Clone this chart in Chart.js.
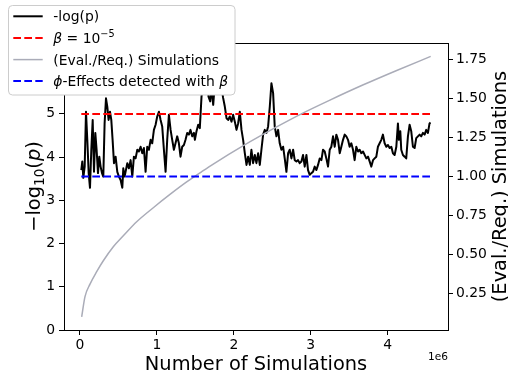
<!DOCTYPE html>
<html>
<head>
<meta charset="utf-8">
<script src="https://cdn.jsdelivr.net/npm/chart.js@4"></script>
<style>
  body { margin: 0; background: #fff; }
</style>
</head>
<body>
<canvas id="simChart" width="508" height="376"></canvas>
<script>
// number of simulations (in units of 1e6) and -log10(p) at each step
const simsM = [
  0.017,0.030,0.043,0.061,0.078,0.095,0.113,0.130,0.147,0.165,
  0.182,0.199,0.216,0.234,0.251,0.268,0.286,0.303,0.320,0.338,
  0.355,0.372,0.390,0.407,0.424,0.442,0.463,0.485,0.506,0.528,
  0.550,0.563,0.580,0.597,0.615,0.636,0.658,0.680,0.701,0.723,
  0.745,0.766,0.788,0.810,0.831,0.853,0.874,0.896,0.918,0.939,
  0.961,0.983,1.004,1.026,1.048,1.069,1.091,1.113,1.134,1.156,
  1.178,1.199,1.221,1.242,1.264,1.286,1.307,1.329,1.351,1.372,
  1.394,1.416,1.437,1.459,1.481,
  1.494,1.515,1.537,1.558,1.580,1.602,1.623,1.645,1.660,1.671,
  1.693,1.710,1.732,1.753,1.775,1.797,1.818,1.840,1.861,1.883,
  1.905,1.926,1.948,1.970,1.991,2.013,2.035,2.056,2.078,2.100,
  2.121,2.143,2.165,2.186,2.208,2.229,2.251,2.273,2.294,2.316,
  2.338,2.359,2.381,2.403,2.424,2.446,2.468,2.489,2.511,2.532,
  2.554,2.576,2.597,2.619,2.641,2.662,2.684,2.706,2.727,2.749,
  2.771,2.792,2.814,2.835,2.857,2.879,2.900,2.922,
  2.944,2.965,2.987,3.009,3.030,3.052,3.074,3.095,3.117,3.139,
  3.160,3.182,3.203,3.225,3.247,3.268,3.290,3.312,3.333,3.355,
  3.377,3.398,3.420,3.442,3.463,3.485,3.506,3.528,3.550,3.571,
  3.593,3.615,3.636,3.658,3.680,3.701,3.723,3.745,3.766,3.788,
  3.810,3.831,3.853,3.874,3.896,3.918,3.939,3.961,3.983,4.004,
  4.026,4.048,4.069,4.091,4.113,4.134,4.147,4.165,4.177,4.199,
  4.221,4.242,4.264,4.286,4.307,4.329,4.351,4.372,4.394,4.416,
  4.437,4.459,4.481,4.502,4.524,4.545,4.558
];
const negLogP = [
  3.70,3.90,3.52,3.78,5.05,4.40,3.63,3.29,4.17,4.86,
  3.66,4.56,4.17,3.63,4.01,3.78,3.63,3.55,4.78,5.36,
  5.17,4.86,5.05,4.86,4.40,3.86,4.01,3.66,3.55,3.47,
  3.29,3.74,3.55,3.70,3.86,3.74,3.93,3.55,4.01,3.97,
  4.17,4.13,4.24,4.09,4.21,3.66,4.24,4.17,4.40,4.32,
  4.63,4.75,4.94,5.05,4.86,4.71,4.17,3.66,4.40,4.98,
  4.63,4.40,4.17,4.32,4.48,4.32,4.01,4.24,4.28,4.40,
  4.56,4.52,4.63,4.48,4.56,
  4.40,4.60,4.75,4.67,5.40,5.72,6.00,6.25,5.90,5.40,
  5.29,5.60,5.21,5.70,6.10,6.30,5.90,5.60,5.37,5.17,
  4.90,4.86,4.94,4.82,4.98,4.82,4.63,4.78,5.05,4.63,
  4.40,4.09,3.82,4.01,3.82,4.17,3.86,4.05,3.86,4.09,
  3.82,4.17,4.52,4.63,4.56,4.71,5.17,5.71,5.48,4.71,
  4.48,4.63,4.32,4.17,4.24,3.97,3.66,4.09,4.17,3.97,
  4.17,3.93,3.90,3.93,3.86,3.90,4.05,3.78,
  4.05,3.70,3.59,3.63,3.66,3.78,3.70,3.82,3.97,3.93,
  4.17,4.13,3.97,3.78,4.17,4.24,4.48,4.24,4.52,4.40,
  4.09,4.24,4.40,4.52,4.48,4.40,4.24,4.32,4.17,3.93,
  4.24,4.13,4.17,4.09,4.13,4.05,3.97,4.01,3.90,3.78,
  3.93,3.97,4.01,4.24,4.32,4.40,4.52,4.32,4.24,4.28,
  4.21,4.24,4.09,4.05,4.24,4.78,4.40,4.60,4.17,4.05,
  4.01,3.97,4.48,4.75,4.60,4.24,4.21,4.44,4.48,4.52,
  4.48,4.56,4.52,4.63,4.56,4.78,4.80
];

// evaluated / required simulations ratio (right axis)
const ratioSimsM = [0.022,0.065,0.13,0.217,0.303,0.433,0.563,0.737,0.953,1.17,1.387,1.58,1.733,2.124,2.557,2.904,3.25,3.684,4.118,4.56];
const ratioVals  = [0.10,0.23,0.31,0.39,0.46,0.55,0.62,0.71,0.80,0.885,0.965,1.03,1.08,1.198,1.318,1.408,1.49,1.588,1.68,1.77];

const betaLevel = 5;       // -log10(1e-5)
const detectedLevel = 1.0; // right axis

const xTicks = [0, 1, 2, 3, 4];
const leftTicks = [0, 1, 2, 3, 4, 5];
const rightTicks = [0.25, 0.50, 0.75, 1.00, 1.25, 1.50, 1.75];

const FONT = 'DejaVu Sans';
const grayCol = 'rgb(170,172,184)';
const dash = [7.7, 3.3];

const first = simsM[0], last = simsM[simsM.length - 1];

function drawRuns(ctx, runs, x, y) {
    let cx = x;
    for (const r of runs) {
        ctx.font = r.font;
        ctx.fillText(r.text, cx, y + (r.dy || 0));
        cx += ctx.measureText(r.text).width;
    }
}
function runsWidth(ctx, runs) {
    let w = 0;
    for (const r of runs) { ctx.font = r.font; w += ctx.measureText(r.text).width; }
    return w;
}

const decor = {
    id: 'decor',
    afterDraw(chart) {
        const ctx = chart.ctx;
        const a = chart.chartArea;
        ctx.save();
        // top spine
        ctx.strokeStyle = '#000';
        ctx.lineWidth = 1;
        ctx.beginPath();
        ctx.moveTo(a.left, a.top + 0.5);
        ctx.lineTo(a.right, a.top + 0.5);
        ctx.stroke();

        ctx.fillStyle = '#000';
        ctx.textBaseline = 'alphabetic';
        const big = '19.4px "' + FONT + '"';

        // x title + offset text
        ctx.textAlign = 'center';
        ctx.font = big;
        ctx.fillText('Number of Simulations', (a.left + a.right) / 2, 370);
        ctx.textAlign = 'right';
        ctx.font = '10.6px "' + FONT + '"';
        ctx.fillText('1e6', a.right, 360);
        ctx.textAlign = 'left';

        const midY = (a.top + a.bottom) / 2;
        // left title: -log10(p)
        const leftRuns = [
            { text: '\u2212log', font: big },
            { text: '10', font: '13.6px "' + FONT + '"', dy: 4 },
            { text: '(', font: big },
            { text: 'p', font: 'italic 19.4px "' + FONT + '"' },
            { text: ')', font: big }
        ];
        ctx.save();
        ctx.translate(40, midY);
        ctx.rotate(-Math.PI / 2);
        drawRuns(ctx, leftRuns, -runsWidth(ctx, leftRuns) / 2, 0);
        ctx.restore();

        // right title
        ctx.save();
        ctx.translate(506, midY);
        ctx.rotate(-Math.PI / 2);
        ctx.font = big;
        ctx.textAlign = 'center';
        ctx.fillText('(Eval./Req.) Simulations', 0, 0);
        ctx.restore();

        // legend
        const reg = '13.9px "' + FONT + '"';
        const ital = 'italic 13.9px "' + FONT + '"';
        ctx.beginPath();
        ctx.roundRect(8.5, 5.5, 226.5, 89.5, 4);
        ctx.fillStyle = '#fff';
        ctx.fill();
        ctx.strokeStyle = '#cccccc';
        ctx.lineWidth = 1;
        ctx.stroke();

        const rows = [
            { color: '#000', dashed: false, runs: [{ text: '-log(p)', font: reg }] },
            { color: 'red', dashed: true, runs: [
                { text: '\u03b2', font: ital }, { text: ' = 10', font: reg },
                { text: '\u22125', font: '9.7px "' + FONT + '"', dy: -6 }] },
            { color: grayCol, dashed: false, runs: [{ text: '(Eval./Req.) Simulations', font: reg }] },
            { color: 'blue', dashed: true, runs: [
                { text: '\u03d5', font: ital }, { text: '-Effects detected with ', font: reg },
                { text: '\u03b2', font: ital }] }
        ];
        const baselines = [21.3, 43, 64.6, 86.1];
        rows.forEach((r, i) => {
            const hy = baselines[i] - 5;
            ctx.strokeStyle = r.color;
            ctx.lineWidth = r.color === grayCol ? 1.5 : 2;
            ctx.setLineDash(r.dashed ? dash : []);
            ctx.beginPath();
            ctx.moveTo(13.3, hy);
            ctx.lineTo(42.7, hy);
            ctx.stroke();
            ctx.setLineDash([]);
            ctx.fillStyle = '#000';
            drawRuns(ctx, r.runs, 53.3, baselines[i]);
        });
        ctx.restore();
    }
};

const tickFont = { family: FONT, size: 13.9 };
const gridOpts = { drawOnChartArea: false, drawTicks: true, tickLength: 5, tickColor: '#000', tickWidth: 1 };
const borderOpts = { display: true, color: '#000', width: 1 };

new Chart(document.getElementById('simChart').getContext('2d'), {
    type: 'line',
    data: {
        datasets: [{
            label: '-log(p)',
            data: simsM.map((x, i) => ({ x: x, y: negLogP[i] })),
            yAxisID: 'y',
            borderColor: '#000',
            borderWidth: 2,
            borderJoinStyle: 'round',
            pointRadius: 0,
            order: 4
        }, {
            label: 'beta',
            data: [{ x: first, y: betaLevel }, { x: last, y: betaLevel }],
            yAxisID: 'y',
            borderColor: 'red',
            borderWidth: 2,
            borderDash: dash,
            pointRadius: 0,
            order: 3
        }, {
            label: '(Eval./Req.) Simulations',
            data: ratioSimsM.map((x, i) => ({ x: x, y: ratioVals[i] })),
            yAxisID: 'y2',
            borderColor: grayCol,
            borderWidth: 1.5,
            cubicInterpolationMode: 'monotone',
            pointRadius: 0,
            order: 2
        }, {
            label: 'phi-Effects detected with beta',
            data: [{ x: first, y: detectedLevel }, { x: last, y: detectedLevel }],
            yAxisID: 'y2',
            borderColor: 'blue',
            borderWidth: 2,
            borderDash: dash,
            pointRadius: 0,
            order: 1
        }]
    },
    options: {
        responsive: false,
        animation: false,
        devicePixelRatio: 1,
        layout: { padding: { top: 43, left: 0, right: 0, bottom: 0 } },
        plugins: { legend: { display: false }, tooltip: { enabled: false } },
        scales: {
            x: {
                type: 'linear',
                min: -0.208, max: 4.785,
                afterBuildTicks: s => { s.ticks = xTicks.map(v => ({ value: v })); },
                afterFit: s => { s.height = 46; },
                ticks: { font: tickFont, color: '#000', padding: 2, maxRotation: 0, callback: v => String(v) },
                grid: gridOpts,
                border: borderOpts
            },
            y: {
                position: 'left',
                min: 0, max: 6.64,
                afterBuildTicks: s => { s.ticks = leftTicks.map(v => ({ value: v })); },
                afterFit: s => { s.width = 64; },
                ticks: { font: tickFont, color: '#000', padding: 4, callback: v => String(v) },
                grid: gridOpts,
                border: borderOpts
            },
            y2: {
                position: 'right',
                min: 0.016, max: 1.856,
                afterBuildTicks: s => { s.ticks = rightTicks.map(v => ({ value: v })); },
                afterFit: s => { s.width = 60; },
                ticks: { font: tickFont, color: '#000', padding: 3, callback: v => v.toFixed(2) },
                grid: gridOpts,
                border: borderOpts
            }
        }
    },
    plugins: [decor]
});
</script>
</body>
</html>
